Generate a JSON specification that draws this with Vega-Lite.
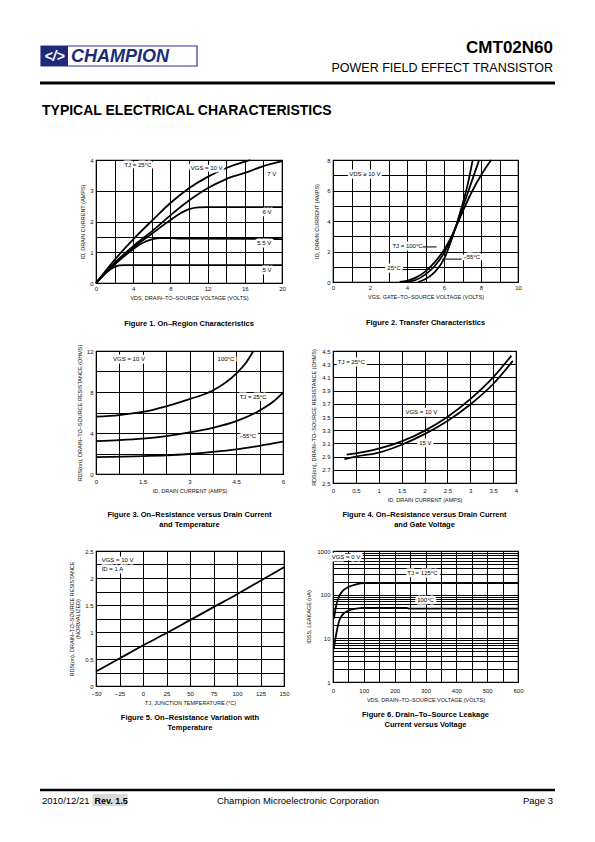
{
 "$schema": "https://vega.github.io/schema/vega-lite/v6.json",
 "padding": 0,
 "autosize": {"type": "pad"},
 "background": "white",
 "usermeta": {"embedOptions": {"actions": false}},
 "config": {
  "font": "Liberation Sans",
  "view": {"stroke": "black", "strokeWidth": 1.2},
  "axis": {"grid": true, "gridColor": "#000", "gridWidth": 1, "gridOpacity": 1, "domain": false, "ticks": false,
           "labelFontSize": 6, "labelColor": "#111", "labelPadding": 3, "labelFlush": false, "labelOverlap": false,
           "titleFontSize": 5.5, "titleFontWeight": "normal", "titleColor": "#111", "titlePadding": 4},
  "axisX": {"labelPadding": 2},
  "line": {"interpolate": "monotone"},
  "title": {"fontSize": 7.5, "fontWeight": "bold", "orient": "bottom", "anchor": "middle", "frame": "group", "color": "#000", "lineHeight": 10.5}
 },
 "datasets": {
  "c1": [
   {"s":"10 V","vds":0,"id":0},{"s":"10 V","vds":1,"id":0.38},{"s":"10 V","vds":2,"id":0.75},{"s":"10 V","vds":4,"id":1.42},{"s":"10 V","vds":6,"id":2.02},{"s":"10 V","vds":8,"id":2.6},{"s":"10 V","vds":10,"id":3.08},{"s":"10 V","vds":12,"id":3.45},{"s":"10 V","vds":14,"id":3.74},{"s":"10 V","vds":16,"id":3.95},{"s":"10 V","vds":16.6,"id":4},
   {"s":"7 V","vds":0,"id":0},{"s":"7 V","vds":2,"id":0.65},{"s":"7 V","vds":4,"id":1.2},{"s":"7 V","vds":6,"id":1.68},{"s":"7 V","vds":8,"id":2.2},{"s":"7 V","vds":10,"id":2.68},{"s":"7 V","vds":12,"id":3.08},{"s":"7 V","vds":14,"id":3.38},{"s":"7 V","vds":16,"id":3.58},{"s":"7 V","vds":18,"id":3.8},{"s":"7 V","vds":20,"id":3.96},
   {"s":"6 V","vds":0,"id":0},{"s":"6 V","vds":2,"id":0.62},{"s":"6 V","vds":4,"id":1.15},{"s":"6 V","vds":6,"id":1.6},{"s":"6 V","vds":8,"id":2.05},{"s":"6 V","vds":9,"id":2.25},{"s":"6 V","vds":10,"id":2.4},{"s":"6 V","vds":11,"id":2.46},{"s":"6 V","vds":12,"id":2.47},{"s":"6 V","vds":20,"id":2.47},
   {"s":"5.5 V","vds":0,"id":0},{"s":"5.5 V","vds":2,"id":0.6},{"s":"5.5 V","vds":4,"id":1.1},{"s":"5.5 V","vds":5,"id":1.3},{"s":"5.5 V","vds":6,"id":1.42},{"s":"5.5 V","vds":7,"id":1.46},{"s":"5.5 V","vds":8,"id":1.46},{"s":"5.5 V","vds":9,"id":1.44},{"s":"5.5 V","vds":20,"id":1.43},
   {"s":"5 V","vds":0,"id":0},{"s":"5 V","vds":1,"id":0.32},{"s":"5 V","vds":2,"id":0.52},{"s":"5 V","vds":2.5,"id":0.57},{"s":"5 V","vds":3,"id":0.58},{"s":"5 V","vds":20,"id":0.58}
  ],
  "c1lab": [
   {"vds":4.5,"id":3.83,"t":"TJ = 25°C"},{"vds":11.9,"id":3.75,"t":"VGS = 10 V"},{"vds":18.9,"id":3.55,"t":"7 V"},
   {"vds":18.4,"id":2.3,"t":"6 V"},{"vds":18.1,"id":1.3,"t":"5.5 V"},{"vds":18.4,"id":0.43,"t":"5 V"}
  ],
  "c2": [
   {"s":"100","vgs":3.6,"id":0},{"s":"100","vgs":4,"id":0.08},{"s":"100","vgs":4.5,"id":0.3},{"s":"100","vgs":5,"id":0.7},{"s":"100","vgs":5.5,"id":1.3},{"s":"100","vgs":6,"id":2.1},{"s":"100","vgs":6.5,"id":3.2},{"s":"100","vgs":7,"id":4.6},{"s":"100","vgs":7.5,"id":5.9},{"s":"100","vgs":8,"id":7.0},{"s":"100","vgs":8.55,"id":8},
   {"s":"25","vgs":4,"id":0},{"s":"25","vgs":4.5,"id":0.15},{"s":"25","vgs":5,"id":0.5},{"s":"25","vgs":5.5,"id":1.05},{"s":"25","vgs":6,"id":1.9},{"s":"25","vgs":6.5,"id":3.2},{"s":"25","vgs":7,"id":4.85},{"s":"25","vgs":7.5,"id":6.6},{"s":"25","vgs":7.9,"id":8},
   {"s":"-55","vgs":4.6,"id":0},{"s":"-55","vgs":5,"id":0.2},{"s":"-55","vgs":5.5,"id":0.65},{"s":"-55","vgs":6,"id":1.5},{"s":"-55","vgs":6.5,"id":3.1},{"s":"-55","vgs":7,"id":5.1},{"s":"-55","vgs":7.3,"id":6.5},{"s":"-55","vgs":7.55,"id":8}
  ],
  "c2lab": [
   {"vgs":1.72,"id":7.09,"t":"VDS ≥ 10 V"},{"vgs":4.03,"id":2.35,"t":"TJ = 100°C"},{"vgs":3.3,"id":0.9,"t":"25°C"},{"vgs":7.5,"id":1.65,"t":"–55°C"}
  ],
  "c2lead": [
   {"vgs":4.85,"vgs2":5.6,"id":2.3},{"vgs":3.75,"vgs2":5.25,"id":0.82},{"vgs":5.9,"vgs2":6.95,"id":1.5}
  ],
  "c3": [
   {"s":"100","id":0,"r":5.6},{"s":"100","id":0.75,"r":5.75},{"s":"100","id":1.5,"r":6.05},{"s":"100","id":2.25,"r":6.6},{"s":"100","id":3,"r":7.3},{"s":"100","id":3.75,"r":8.15},{"s":"100","id":4.5,"r":9.8},{"s":"100","id":4.8,"r":10.8},{"s":"100","id":5.05,"r":12},
   {"s":"25","id":0,"r":3.2},{"s":"25","id":0.75,"r":3.3},{"s":"25","id":1.5,"r":3.45},{"s":"25","id":2.25,"r":3.7},{"s":"25","id":3,"r":4.05},{"s":"25","id":3.75,"r":4.5},{"s":"25","id":4.5,"r":5.15},{"s":"25","id":5.25,"r":6.2},{"s":"25","id":5.7,"r":7.1},{"s":"25","id":6,"r":7.95},
   {"s":"-55","id":0,"r":1.65},{"s":"-55","id":1.5,"r":1.75},{"s":"-55","id":3,"r":1.95},{"s":"-55","id":3.75,"r":2.15},{"s":"-55","id":4.5,"r":2.4},{"s":"-55","id":5.25,"r":2.75},{"s":"-55","id":6,"r":3.15}
  ],
  "c3lab": [
   {"id":1.06,"r":11.2,"t":"VGS = 10 V"},{"id":4.17,"r":11.2,"t":"100°C"},{"id":5.04,"r":7.5,"t":"TJ = 25°C"},{"id":4.87,"r":3.7,"t":"–55°C"}
  ],
  "c4": [
   {"s":"10","id":0.3,"r":2.93},{"s":"10","id":0.5,"r":2.95},{"s":"10","id":1,"r":3.02},{"s":"10","id":1.5,"r":3.13},{"s":"10","id":2,"r":3.29},{"s":"10","id":2.5,"r":3.5},{"s":"10","id":3,"r":3.77},{"s":"10","id":3.5,"r":4.1},{"s":"10","id":3.9,"r":4.43},
   {"s":"15","id":0.25,"r":2.86},{"s":"15","id":0.5,"r":2.9},{"s":"15","id":1,"r":2.96},{"s":"15","id":1.5,"r":3.08},{"s":"15","id":2,"r":3.24},{"s":"15","id":2.5,"r":3.44},{"s":"15","id":3,"r":3.69},{"s":"15","id":3.5,"r":4.0},{"s":"15","id":3.93,"r":4.35}
  ],
  "c4lab": [
   {"id":0.4,"r":4.33,"t":"TJ = 25°C"},{"id":1.93,"r":3.57,"t":"VGS = 10 V"},{"id":2.02,"r":3.1,"t":"15 V"}
  ],
  "c5": [
   {"tj":-50,"r":0.27},{"tj":-25,"r":0.51},{"tj":0,"r":0.75},{"tj":25,"r":0.98},{"tj":50,"r":1.22},{"tj":75,"r":1.46},{"tj":100,"r":1.7},{"tj":125,"r":1.95},{"tj":150,"r":2.2}
  ],
  "c5lab": [
   {"tj":-44,"r":2.33,"t":"VGS = 10 V"},{"tj":-44,"r":2.16,"t":"ID = 1 A"}
  ],
  "c6": [
   {"s":"125","vds":3,"il":28},{"s":"125","vds":10,"il":55},{"s":"125","vds":20,"il":92},{"s":"125","vds":30,"il":118},{"s":"125","vds":50,"il":150},{"s":"125","vds":75,"il":172},{"s":"125","vds":100,"il":183},{"s":"125","vds":600,"il":185},
   {"s":"100","vds":3,"il":5.8},{"s":"100","vds":10,"il":12},{"s":"100","vds":20,"il":25},{"s":"100","vds":30,"il":34},{"s":"100","vds":50,"il":43},{"s":"100","vds":75,"il":48},{"s":"100","vds":100,"il":50},{"s":"100","vds":240,"il":50},{"s":"100","vds":245,"il":48},{"s":"100","vds":600,"il":48}
  ],
  "c6lab": [
   {"vds":42,"il":720,"t":"VGS = 0 V"},{"vds":290,"il":320,"t":"TJ = 125°C"},{"vds":300,"il":76,"t":"100°C"}
  ]
 },
 "columns": 2,
 "spacing": {"row": 68, "column": 49},
 "bounds": "flush",
 "concat": [
  {
   "width": 188, "height": 60, "view": {"stroke": null},
   "layer": [
    {"data": {"values": [{}]}, "mark": {"type": "rect", "opacity": 0},
     "encoding": {"x": {"datum": 0, "type": "quantitative", "scale": {"domain": [96, 284], "nice": false, "zero": false}, "axis": null},
                  "x2": {"datum": 1},
                  "y": {"datum": 0, "type": "quantitative", "scale": {"domain": [32, 92], "nice": false, "zero": false, "reverse": true}, "axis": null},
                  "y2": {"datum": 1}}},
    {"data": {"values": [{}]}, "mark": {"type": "rect", "fill": "white", "stroke": "#2e3192", "strokeWidth": 1.2},
     "encoding": {"x": {"datum": 41, "type": "quantitative", "axis": null}, "x2": {"datum": 197},
                  "y": {"datum": 46, "type": "quantitative", "axis": null}, "y2": {"datum": 66}}},
    {"data": {"values": [{}]}, "mark": {"type": "rect", "fill": "#1c2a7a"},
     "encoding": {"x": {"datum": 41, "type": "quantitative", "axis": null}, "x2": {"datum": 68},
                  "y": {"datum": 46, "type": "quantitative", "axis": null}, "y2": {"datum": 66}}},
    {"data": {"values": [{"t": "</>"}]}, "mark": {"type": "text", "align": "center", "baseline": "middle", "fontSize": 14, "fontWeight": "bold", "fontStyle": "italic", "fill": "white"},
     "encoding": {"x": {"datum": 54.5, "type": "quantitative", "axis": null}, "y": {"datum": 56.5, "type": "quantitative", "axis": null}, "text": {"field": "t"}}},
    {"data": {"values": [{"t": "CHAMPION"}]}, "mark": {"type": "text", "align": "left", "baseline": "middle", "fontSize": 18, "fontWeight": "bold", "fontStyle": "italic", "fill": "#1c2a7a"},
     "encoding": {"x": {"datum": 71, "type": "quantitative", "axis": null}, "y": {"datum": 56.5, "type": "quantitative", "axis": null}, "text": {"field": "t"}}},
    {"data": {"values": [{"t": "CMT02N60"}]}, "mark": {"type": "text", "align": "right", "baseline": "alphabetic", "fontSize": 17, "fontWeight": "bold", "fill": "#000"},
     "encoding": {"x": {"datum": 553, "type": "quantitative", "axis": null}, "y": {"datum": 53, "type": "quantitative", "axis": null}, "text": {"field": "t"}}},
    {"data": {"values": [{"t": "POWER FIELD EFFECT TRANSISTOR"}]}, "mark": {"type": "text", "align": "right", "baseline": "alphabetic", "fontSize": 12.5, "fill": "#000"},
     "encoding": {"x": {"datum": 553, "type": "quantitative", "axis": null}, "y": {"datum": 72, "type": "quantitative", "axis": null}, "text": {"field": "t"}}},
    {"data": {"values": [{}]}, "mark": {"type": "rule", "strokeWidth": 3, "color": "#000"},
     "encoding": {"x": {"datum": 40, "type": "quantitative", "axis": null}, "x2": {"datum": 555},
                  "y": {"datum": 83, "type": "quantitative", "axis": null}}},
    {"data": {"values": [{"t": "TYPICAL ELECTRICAL CHARACTERISTICS"}]}, "mark": {"type": "text", "align": "left", "baseline": "alphabetic", "fontSize": 14, "fontWeight": "bold", "fill": "#000"},
     "encoding": {"x": {"datum": 42, "type": "quantitative", "axis": null}, "y": {"datum": 115, "type": "quantitative", "axis": null}, "text": {"field": "t"}}}
   ]
  },
  {"width": 185, "height": 60, "view": {"stroke": null}, "data": {"values": []}, "mark": "point"},
  {
   "width": 186, "height": 123,
   "title": {"text": "Figure 1. On–Region Characteristics", "offset": 19},
   "encoding": {
    "x": {"field": "vds", "type": "quantitative", "scale": {"domain": [0, 20], "nice": false},
          "axis": {"values": [0,2,4,6,8,10,12,14,16,18,20], "labelExpr": "datum.value % 4 == 0 ? '' + datum.value : ''", "title": "VDS, DRAIN–TO–SOURCE VOLTAGE (VOLTS)"}},
    "y": {"field": "id", "type": "quantitative", "scale": {"domain": [0, 4], "nice": false},
          "axis": {"values": [0,1,1.5,2,3,4], "labelExpr": "datum.value % 1 == 0 ? '' + datum.value : ''", "title": "ID, DRAIN CURRENT (AMPS)"}}
   },
   "layer": [
    {"data": {"name": "c1"}, "mark": {"type": "line", "color": "black", "strokeWidth": 1.8}, "encoding": {"detail": {"field": "s", "type": "nominal"}}},
    {"data": {"name": "c1lab"}, "mark": {"type": "text", "fontSize": 6, "fill": "white", "stroke": "white", "strokeWidth": 5, "strokeJoin": "round"}, "encoding": {"text": {"field": "t"}}},
    {"data": {"name": "c1lab"}, "mark": {"type": "text", "fontSize": 6, "fill": "black"}, "encoding": {"text": {"field": "t"}}}
   ]
  },
  {
   "width": 185, "height": 122,
   "title": {"text": "Figure 2. Transfer Characteristics", "offset": 19},
   "encoding": {
    "x": {"field": "vgs", "type": "quantitative", "scale": {"domain": [0, 10], "nice": false},
          "axis": {"values": [0,1,2,3,4,5,6,7,8,9,10], "labelExpr": "datum.value % 2 == 0 ? '' + datum.value : ''", "title": "VGS, GATE–TO–SOURCE VOLTAGE (VOLTS)"}},
    "y": {"field": "id", "type": "quantitative", "scale": {"domain": [0, 8], "nice": false},
          "axis": {"values": [0,1,2,3,4,5,6,7,8], "labelExpr": "datum.value % 2 == 0 ? '' + datum.value : ''", "title": "ID, DRAIN CURRENT (AMPS)", "titlePadding": 7}}
   },
   "layer": [
    {"data": {"name": "c2"}, "mark": {"type": "line", "color": "black", "strokeWidth": 1.8}, "encoding": {"detail": {"field": "s", "type": "nominal"}}},
    {"data": {"name": "c2lab"}, "mark": {"type": "text", "fontSize": 6, "fill": "white", "stroke": "white", "strokeWidth": 5, "strokeJoin": "round"}, "encoding": {"text": {"field": "t"}}},
    {"data": {"name": "c2lead"}, "mark": {"type": "rule", "color": "black", "strokeWidth": 1}, "encoding": {"x2": {"field": "vgs2"}}},
    {"data": {"name": "c2lab"}, "mark": {"type": "text", "fontSize": 6, "fill": "black"}, "encoding": {"text": {"field": "t"}}}
   ]
  },
  {
   "width": 187, "height": 123,
   "title": {"text": ["Figure 3. On–Resistance versus Drain Current", "and Temperature"], "offset": 17},
   "encoding": {
    "x": {"field": "id", "type": "quantitative", "scale": {"domain": [0, 6], "nice": false},
          "axis": {"values": [0,0.75,1.5,2.25,3,3.75,4.5,5.25,6], "labelExpr": "datum.value % 1.5 == 0 ? '' + datum.value : ''", "title": "ID, DRAIN CURRENT (AMPS)", "labelPadding": 4}},
    "y": {"field": "r", "type": "quantitative", "scale": {"domain": [0, 12], "nice": false},
          "axis": {"values": [0,2,4,6,8,10,12], "labelExpr": "datum.value % 4 == 0 ? '' + datum.value : ''", "title": "RDS(on), DRAIN–TO–SOURCE RESISTANCE (OHMS)"}}
   },
   "layer": [
    {"data": {"name": "c3"}, "mark": {"type": "line", "color": "black", "strokeWidth": 1.8}, "encoding": {"detail": {"field": "s", "type": "nominal"}}},
    {"data": {"name": "c3lab"}, "mark": {"type": "text", "fontSize": 6, "fill": "white", "stroke": "white", "strokeWidth": 5, "strokeJoin": "round"}, "encoding": {"text": {"field": "t"}}},
    {"data": {"name": "c3lab"}, "mark": {"type": "text", "fontSize": 6, "fill": "black"}, "encoding": {"text": {"field": "t"}}}
   ]
  },
  {
   "width": 183, "height": 132,
   "title": {"text": ["Figure 4. On–Resistance versus Drain Current", "and Gate Voltage"], "offset": 8},
   "encoding": {
    "x": {"field": "id", "type": "quantitative", "scale": {"domain": [0, 4], "nice": false},
          "axis": {"values": [0,0.5,1,1.5,2,2.5,3,3.5,4], "labelExpr": "'' + datum.value", "title": "ID, DRAIN CURRENT (AMPS)", "labelPadding": 4}},
    "y": {"field": "r", "type": "quantitative", "scale": {"domain": [2.5, 4.5], "nice": false, "zero": false},
          "axis": {"values": [2.5,2.7,2.9,3.1,3.3,3.5,3.7,3.9,4.1,4.3,4.5], "labelExpr": "'' + datum.value", "title": "RDS(on), DRAIN–TO–SOURCE RESISTANCE (OHMS)", "titlePadding": 5}}
   },
   "layer": [
    {"data": {"name": "c4"}, "mark": {"type": "line", "color": "black", "strokeWidth": 1.8}, "encoding": {"detail": {"field": "s", "type": "nominal"}}},
    {"data": {"name": "c4lab"}, "mark": {"type": "text", "fontSize": 6, "fill": "white", "stroke": "white", "strokeWidth": 5, "strokeJoin": "round"}, "encoding": {"text": {"field": "t"}}},
    {"data": {"name": "c4lab"}, "mark": {"type": "text", "fontSize": 6, "fill": "black"}, "encoding": {"text": {"field": "t"}}}
   ]
  },
  {
   "width": 188, "height": 135,
   "title": {"text": ["Figure 5. On–Resistance Variation with", "Temperature"], "offset": 8},
   "encoding": {
    "x": {"field": "tj", "type": "quantitative", "scale": {"domain": [-50, 150], "nice": false, "zero": false},
          "axis": {"values": [-50,-25,0,25,50,75,100,125,150], "labelExpr": "replace('' + datum.value, '-', '−')", "title": "TJ, JUNCTION TEMPERATURE (°C)", "labelPadding": 4}},
    "y": {"field": "r", "type": "quantitative", "scale": {"domain": [0, 2.5], "nice": false},
          "axis": {"values": [0,0.25,0.5,0.75,1,1.25,1.5,1.75,2,2.25,2.5], "labelExpr": "datum.value % 0.5 == 0 ? '' + datum.value : ''", "title": ["RDS(on), DRAIN–TO–SOURCE RESISTANCE", "(NORMALIZED)"], "titleLineHeight": 6}}
   },
   "layer": [
    {"data": {"name": "c5"}, "mark": {"type": "line", "color": "black", "strokeWidth": 1.8}},
    {"data": {"name": "c5lab"}, "mark": {"type": "text", "align": "left", "fontSize": 6, "fill": "white", "stroke": "white", "strokeWidth": 5, "strokeJoin": "round"}, "encoding": {"text": {"field": "t"}}},
    {"data": {"name": "c5lab"}, "mark": {"type": "text", "align": "left", "fontSize": 6, "fill": "black"}, "encoding": {"text": {"field": "t"}}}
   ]
  },
  {
   "width": 185, "height": 131,
   "title": {"text": ["Figure 6. Drain–To–Source Leakage", "Current versus Voltage"], "offset": 8},
   "encoding": {
    "x": {"field": "vds", "type": "quantitative", "scale": {"domain": [0, 600], "nice": false},
          "axis": {"values": [0,50,100,150,200,250,300,350,400,450,500,550,600], "labelExpr": "datum.value % 100 == 0 ? '' + datum.value : ''", "title": "VDS, DRAIN–TO–SOURCE VOLTAGE (VOLTS)", "labelPadding": 5}},
    "y": {"field": "il", "type": "quantitative", "scale": {"type": "log", "domain": [1, 1000], "nice": false},
          "axis": {"values": [1,2,3,4,5,6,7,8,9,10,20,30,40,50,60,70,80,90,100,200,300,400,500,600,700,800,900,1000], "labelExpr": "indexof([1,10,100,1000], datum.value) >= 0 ? '' + datum.value : ''", "title": "IDSS, LEAKAGE (nA)", "titlePadding": 5}}
   },
   "layer": [
    {"data": {"name": "c6"}, "mark": {"type": "line", "color": "black", "strokeWidth": 1.8}, "encoding": {"detail": {"field": "s", "type": "nominal"}}},
    {"data": {"name": "c6lab"}, "mark": {"type": "text", "fontSize": 6, "fill": "white", "stroke": "white", "strokeWidth": 5, "strokeJoin": "round"}, "encoding": {"text": {"field": "t"}}},
    {"data": {"name": "c6lab"}, "mark": {"type": "text", "fontSize": 6, "fill": "black"}, "encoding": {"text": {"field": "t"}}}
   ]
  },
  {
   "width": 188, "height": 50, "view": {"stroke": null},
   "layer": [
    {"data": {"values": [{}]}, "mark": {"type": "rule", "strokeWidth": 2.5, "color": "#000"},
     "encoding": {"x": {"datum": 40, "type": "quantitative", "scale": {"domain": [96, 284], "nice": false, "zero": false}, "axis": null}, "x2": {"datum": 555},
                  "y": {"datum": 790, "type": "quantitative", "scale": {"domain": [754, 804], "nice": false, "zero": false, "reverse": true}, "axis": null}}},
    {"data": {"values": [{}]}, "mark": {"type": "rect", "fill": "#d9d9d9"},
     "encoding": {"x": {"datum": 92.5, "type": "quantitative", "axis": null}, "x2": {"datum": 127.5},
                  "y": {"datum": 794, "type": "quantitative", "axis": null}, "y2": {"datum": 806}}},
    {"data": {"values": [{"t": "2010/12/21"}]}, "mark": {"type": "text", "align": "left", "baseline": "alphabetic", "fontSize": 9.5, "fill": "#000"},
     "encoding": {"x": {"datum": 42, "type": "quantitative", "axis": null}, "y": {"datum": 803.5, "type": "quantitative", "axis": null}, "text": {"field": "t"}}},
    {"data": {"values": [{"t": "Rev. 1.5"}]}, "mark": {"type": "text", "align": "left", "baseline": "alphabetic", "fontSize": 9, "fontWeight": "bold", "fill": "#000"},
     "encoding": {"x": {"datum": 94.5, "type": "quantitative", "axis": null}, "y": {"datum": 803.5, "type": "quantitative", "axis": null}, "text": {"field": "t"}}},
    {"data": {"values": [{"t": "Champion Microelectronic Corporation"}]}, "mark": {"type": "text", "align": "center", "baseline": "alphabetic", "fontSize": 9.5, "fill": "#000"},
     "encoding": {"x": {"datum": 298, "type": "quantitative", "axis": null}, "y": {"datum": 803.5, "type": "quantitative", "axis": null}, "text": {"field": "t"}}},
    {"data": {"values": [{"t": "Page 3"}]}, "mark": {"type": "text", "align": "right", "baseline": "alphabetic", "fontSize": 9.5, "fill": "#000"},
     "encoding": {"x": {"datum": 553, "type": "quantitative", "axis": null}, "y": {"datum": 803.5, "type": "quantitative", "axis": null}, "text": {"field": "t"}}}
   ]
  },
  {"width": 185, "height": 50, "view": {"stroke": null}, "data": {"values": []}, "mark": "point"}
 ]
}
